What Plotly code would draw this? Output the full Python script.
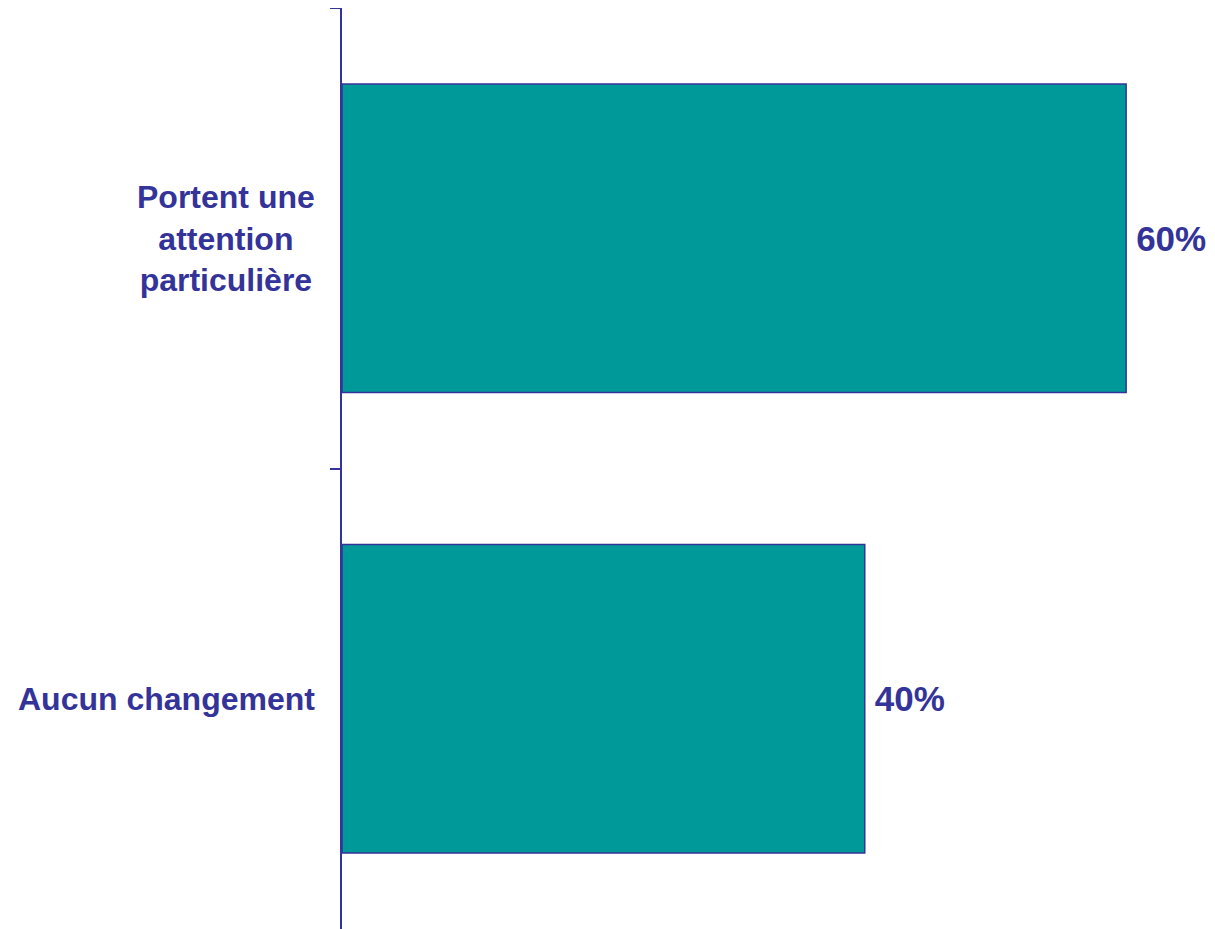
import plotly.graph_objects as go

categories = ["Portent une<br>attention<br>particulière", "Aucun changement"]
values = [60, 40]

TEXT = "#333399"
BAR = "#009999"
FONT = "Liberation Sans, Arial, sans-serif"

fig = go.Figure()
fig.add_trace(go.Bar(
    y=categories, x=values, orientation="h",
    marker=dict(color=BAR, line=dict(color=TEXT, width=1.5)),
    texttemplate="<b>\u2009%{x}%</b>", textposition="outside",
    textfont=dict(color=TEXT, size=35, family=FONT),
    constraintext="none", cliponaxis=False,
))

for c in categories:
    fig.add_annotation(
        xref="paper", yref="y", x=-0.029, y=c, text=f"<b>{c}</b>",
        xanchor="right", yanchor="middle", align="center", showarrow=False,
        font=dict(color=TEXT, size=32, family=FONT),
    )

fig.update_layout(
    width=1207, height=921,
    margin=dict(l=334, r=0, t=0, b=0),
    plot_bgcolor="white", paper_bgcolor="white",
    showlegend=False, bargap=0.33,
    xaxis=dict(range=[0, 66.8], visible=False, fixedrange=True),
    yaxis=dict(
        autorange=False, range=[1.5, -0.5],
        showticklabels=False, tickson="boundaries",
        ticks="outside", ticklen=10, tickwidth=2, tickcolor=TEXT,
        showline=True, linecolor=TEXT, linewidth=2,
        showgrid=False, zeroline=False,
    ),
)

fig.write_html("out.html")
